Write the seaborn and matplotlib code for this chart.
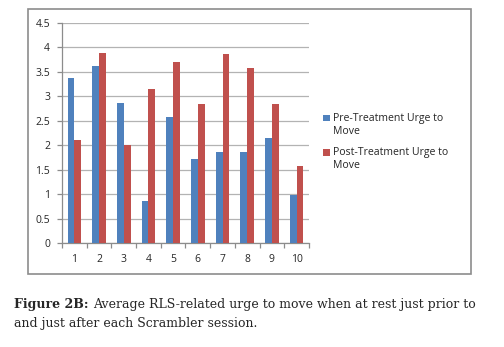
import matplotlib
matplotlib.use("Agg")
import matplotlib.pyplot as plt
from matplotlib.patches import Rectangle
from matplotlib.ticker import MultipleLocator, FixedLocator, NullFormatter
import pandas as pd
import seaborn as sns

# Data
SESSIONS = ["1", "2", "3", "4", "5", "6", "7", "8", "9", "10"]
PRE_URGE = [3.38, 3.63, 2.87, 0.86, 2.58, 1.71, 1.87, 1.87, 2.15, 0.99]
POST_URGE = [2.11, 3.89, 2.01, 3.15, 3.71, 2.85, 3.86, 3.58, 2.85, 1.57]
SERIES = ["Pre-Treatment Urge to\nMove", "Post-Treatment Urge to\nMove"]

PRE_COLOR = "#4F81BD"
POST_COLOR = "#C0504D"

df = pd.DataFrame({
    "session": SESSIONS * 2,
    "value": PRE_URGE + POST_URGE,
    "series": [SERIES[0]] * len(SESSIONS) + [SERIES[1]] * len(SESSIONS),
})

sns.set_style("white")
plt.rcParams["font.family"] = ["Open Sans", "DejaVu Sans"]

fig = plt.figure(figsize=(5.04, 3.47), dpi=100)

# chart frame, behind the axes
fig.patches.append(Rectangle((0.0556, 0.210), 0.879, 0.764, transform=fig.transFigure,
                             facecolor="white", edgecolor="#8c8c8c", linewidth=1.2, zorder=-5))

ax = fig.add_axes([0.123, 0.2997, 0.490, 0.634])
ax.patch.set_alpha(0)
sns.barplot(data=df, x="session", y="value", hue="series", order=SESSIONS,
            palette=[PRE_COLOR, POST_COLOR], width=0.55, saturation=1,
            edgecolor="none", ax=ax, zorder=3)

ax.set_ylim(0, 4.5)
ax.set_xlim(-0.5, len(SESSIONS) - 0.5)
ax.yaxis.set_major_locator(MultipleLocator(0.5))
ax.set_yticklabels([f"{v:g}" for v in ax.get_yticks()])
ax.grid(axis="y", color="#b3b3b3", linewidth=0.9, zorder=0)
ax.set_axisbelow(True)

# tick marks between categories, like the spreadsheet chart
ax.xaxis.set_minor_locator(FixedLocator([i - 0.5 for i in range(len(SESSIONS) + 1)]))
ax.xaxis.set_minor_formatter(NullFormatter())
ax.tick_params(axis="x", which="major", length=0, labelsize=7.5, pad=8)
ax.tick_params(axis="x", which="minor", length=3.5, color="#8c8c8c", width=0.9, bottom=True)
ax.tick_params(axis="y", length=3.5, color="#8c8c8c", width=0.9, labelsize=7.5, left=True, pad=5)

for side in ["top", "right"]:
    ax.spines[side].set_visible(False)
for side in ["left", "bottom"]:
    ax.spines[side].set_color("#8c8c8c")
    ax.spines[side].set_linewidth(0.9)

ax.set_xlabel("")
ax.set_ylabel("")

leg = ax.legend(loc="center left", bbox_to_anchor=(1.02, 0.46), frameon=False,
                fontsize=7.6, handlelength=0.6, handleheight=0.6, handletextpad=0.3,
                labelspacing=1.0)
# square marker sits on the first line of each label
for h in leg.legend_handles:
    h.set_y(h.get_y() + 5)

# caption
serif = ["DejaVu Serif"]
t1 = fig.text(0.028, 0.112, "Figure 2B:", fontsize=9, fontweight="bold", family=serif)
fig.canvas.draw()
bb = t1.get_window_extent().transformed(fig.transFigure.inverted())
fig.text(bb.x1 + 0.008, 0.112, "Average RLS-related urge to move when at rest just prior to",
         fontsize=9, family=serif)
fig.text(0.028, 0.057, "and just after each Scrambler session.", fontsize=9, family=serif)

fig.savefig("out.png", dpi=100)
